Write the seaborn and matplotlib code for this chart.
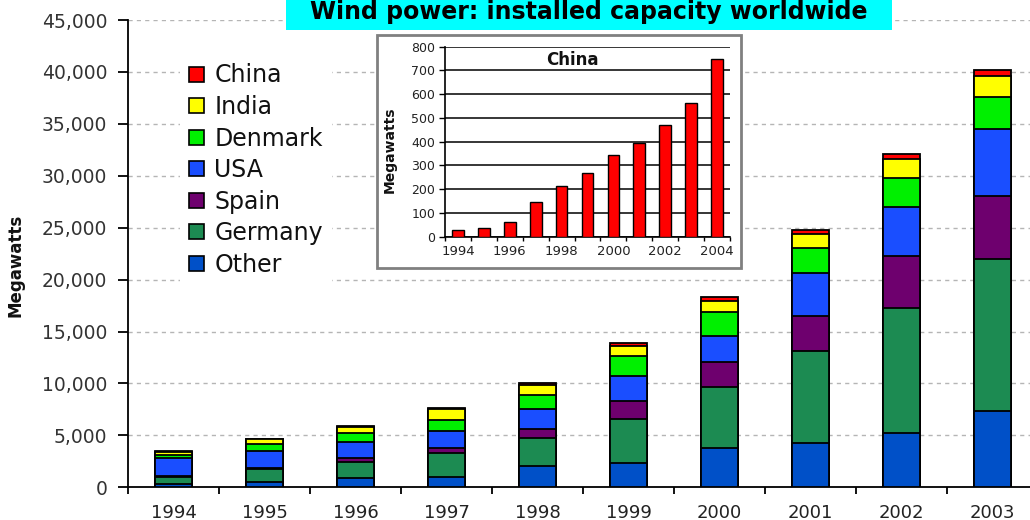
import numpy as np
import pandas as pd
import matplotlib
matplotlib.use("Agg")
import matplotlib.pyplot as plt
from matplotlib.patches import Rectangle, Patch
from matplotlib.ticker import FuncFormatter
import seaborn as sns

# ---------------- data ----------------
years = ["1994", "1995", "1996", "1997", "1998", "1999", "2000", "2001", "2002", "2003"]
other = [320, 480, 870, 1030, 2050, 2310, 3760, 4300, 5270, 7390]
germany = [710, 1250, 1610, 2250, 2670, 4270, 5940, 8860, 11980, 14580]
spain = [75, 100, 320, 480, 870, 1730, 2410, 3340, 4980, 6100]
usa = [1670, 1640, 1610, 1700, 1930, 2440, 2470, 4180, 4750, 6430]
denmark = [350, 670, 800, 1030, 1410, 1890, 2280, 2340, 2790, 3050]
india = [320, 480, 640, 1030, 900, 960, 1090, 1380, 1830, 2020]
china = [30, 40, 60, 150, 220, 270, 350, 400, 470, 570]

inset_years = ["1994", "1995", "1996", "1997", "1998", "1999", "2000",
               "2001", "2002", "2003", "2004"]
china_inset = [28, 35, 63, 147, 215, 267, 342, 396, 470, 564, 747]

y_ticks = [0, 5000, 10000, 15000, 20000, 25000, 30000, 35000, 40000, 45000]
inset_y_ticks = [0, 100, 200, 300, 400, 500, 600, 700, 800]

series_names = ["Other", "Germany", "Spain", "USA", "Denmark", "India", "China"]
series_vals = [other, germany, spain, usa, denmark, india, china]
colors = {
    "Other": "#0050C8",
    "Germany": "#1C8B52",
    "Spain": "#6E006E",
    "USA": "#1A4EFF",
    "Denmark": "#00F000",
    "India": "#FFFF00",
    "China": "#FF0000",
}

df = pd.DataFrame({n: v for n, v in zip(series_names, series_vals)}, index=years)
cum = df.cumsum(axis=1)

# ---------------- figure ----------------
W, H = 1030, 520
fig = plt.figure(figsize=(W / 100, H / 100), dpi=100)
fig.patch.set_facecolor("white")


def fx(px):
    return px / W


def fy(py):
    return 1 - py / H


ax = fig.add_axes([fx(128), fy(487.3), fx(910), 467.3 / H])

# stacked bars: draw cumulative totals from top series down
for name in reversed(series_names):
    sns.barplot(x=years, y=cum[name].values, order=years, color=colors[name],
                edgecolor="black", linewidth=1.3, width=0.4, saturation=1,
                ax=ax, zorder=3)

ax.set_xlim(-0.5, 9.5)
ax.set_ylim(0, 45000)
ax.set_yticks(y_ticks)
ax.yaxis.set_major_formatter(FuncFormatter(lambda v, p: f"{int(v):,}"))
ax.set_xticks(range(len(years)))
ax.set_xticklabels(years)
ax.set_xticks(np.arange(-0.5, len(years), 1), minor=True)
ax.tick_params(axis="x", which="major", length=0, pad=12, labelsize=13, labelcolor="#222222")
ax.tick_params(axis="x", which="minor", length=5, width=1.3, direction="out")
ax.tick_params(axis="y", which="major", length=7, width=1.3, direction="out", pad=8,
               labelsize=13.5, labelcolor="#333333")
ax.set_xlabel("")
ax.set_ylabel("")
ax.yaxis.grid(True, linestyle=(0, (3, 3)), color="#b5b5b5", linewidth=1.0)
ax.xaxis.grid(False)
ax.set_axisbelow(True)
for s in ["top", "right"]:
    ax.spines[s].set_visible(False)
for s in ["left", "bottom"]:
    ax.spines[s].set_color("black")
    ax.spines[s].set_linewidth(1.3)

fig.text(fx(16), fy(265), "Megawatts", rotation=90, ha="center", va="center",
         fontsize=12, fontweight="bold", color="#111111")

# legend (top series first)
handles = [Patch(facecolor=colors[n], edgecolor="black", linewidth=1.2)
           for n in reversed(series_names)]
labels = list(reversed(series_names))
leg = ax.legend(handles, labels, loc="upper left", bbox_to_anchor=(fx(180), fy(54)),
                bbox_transform=fig.transFigure, frameon=True, facecolor="white",
                edgecolor="none", framealpha=1, fontsize=17, handlelength=0.6,
                handleheight=0.6, handletextpad=0.45, labelspacing=0.32,
                borderpad=0.4, borderaxespad=0)
for t in leg.get_texts():
    t.set_color("#111111")

# title box
fig.patches.append(Rectangle((fx(286), fy(30)), fx(606), 40 / H, transform=fig.transFigure,
                             facecolor="#00FFFF", edgecolor="none", zorder=5))
fig.text(fx(589), fy(12), "Wind power: installed capacity worldwide", ha="center",
         va="center", fontsize=17, fontweight="bold", color="black", zorder=6)

# inset frame
fig.patches.append(Rectangle((fx(377), fy(268)), fx(364), 233 / H, transform=fig.transFigure,
                             facecolor="white", edgecolor="#808080", linewidth=2, zorder=3))

ax2 = fig.add_axes([fx(445), fy(236.7), fx(285), 190 / H])
ax2.set_zorder(4)
ax2.patch.set_alpha(0)
sns.barplot(x=inset_years, y=china_inset, order=inset_years, color="#FF0000",
            edgecolor="black", linewidth=1.0, width=0.45, saturation=1, ax=ax2, zorder=3)
ax2.set_xlim(-0.5, 10.5)
ax2.set_ylim(0, 800)
ax2.set_yticks(inset_y_ticks)
ax2.set_xticks(range(0, len(inset_years), 2))
ax2.set_xticklabels(inset_years[::2])
ax2.set_xticks(np.arange(-0.5, len(inset_years), 1), minor=True)
ax2.tick_params(axis="x", which="major", length=0, pad=6, labelsize=9.5, labelcolor="#222222")
ax2.tick_params(axis="x", which="minor", length=3, width=1, direction="out")
ax2.tick_params(axis="y", which="major", length=4, width=1, direction="out", pad=3,
                labelsize=9, labelcolor="#222222")
ax2.set_xlabel("")
ax2.set_ylabel("")
ax2.yaxis.grid(True, linestyle="-", color="black", linewidth=1.1)
ax2.set_axisbelow(True)
for s in ["top", "right"]:
    ax2.spines[s].set_visible(False)
for s in ["left", "bottom"]:
    ax2.spines[s].set_color("black")
    ax2.spines[s].set_linewidth(1.2)
ax2.text(0.446, 0.93, "China", transform=ax2.transAxes, ha="center", va="center",
         fontsize=12, fontweight="bold", color="#111111")
fig.text(fx(390), fy(150), "Megawatts", rotation=90, ha="center", va="center",
         fontsize=10, fontweight="bold", color="#111111", zorder=6)

fig.savefig("out.png", dpi=100)
